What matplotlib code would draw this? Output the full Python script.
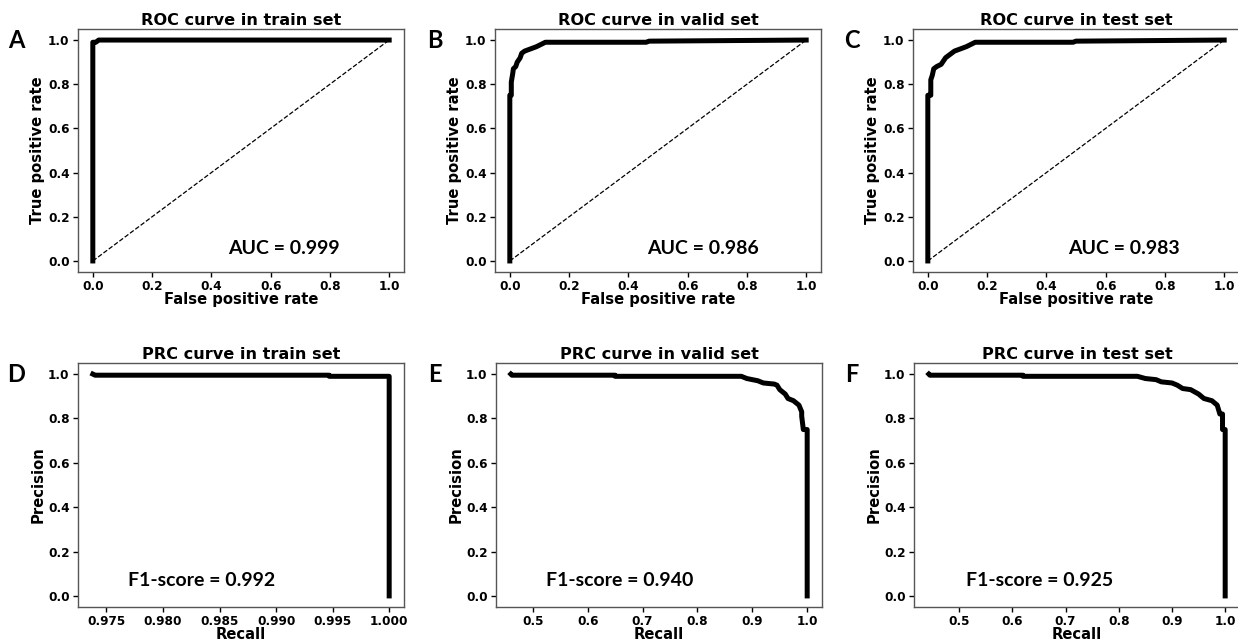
import matplotlib.pyplot as plt

plt.rcParams['font.family'] = 'DejaVu Sans'
plt.rcParams['font.weight'] = 'bold'

# ROC curves (fpr, tpr)
roc_train_fpr = [0.0, 0.0, 0.01, 0.02, 1.0]
roc_train_tpr = [0.0, 0.99, 0.99, 1.0, 1.0]

roc_valid_fpr = [0.0, 0.0, 0.005, 0.005, 0.01, 0.012, 0.02, 0.025, 0.035, 0.04,
                 0.05, 0.07, 0.09, 0.12, 0.46, 0.47, 1.0]
roc_valid_tpr = [0.0, 0.75, 0.75, 0.81, 0.85, 0.87, 0.88, 0.90, 0.92, 0.94,
                 0.95, 0.96, 0.97, 0.99, 0.99, 0.995, 1.0]

roc_test_fpr = [0.0, 0.0, 0.01, 0.01, 0.015, 0.02, 0.03, 0.045, 0.05, 0.06,
                0.07, 0.09, 0.11, 0.13, 0.16, 0.49, 0.50, 1.0]
roc_test_tpr = [0.0, 0.75, 0.75, 0.82, 0.84, 0.87, 0.88, 0.89, 0.90, 0.92,
                0.93, 0.95, 0.96, 0.97, 0.99, 0.99, 0.995, 1.0]

# PRC curves (recall, precision)
prc_train_rec = [0.9738, 0.9740, 0.9947, 0.9947, 1.0, 1.0]
prc_train_pre = [1.0, 0.995, 0.995, 0.99, 0.99, 0.0]

prc_valid_rec = [0.46, 0.462, 0.65, 0.65, 0.88, 0.89, 0.90, 0.91, 0.92, 0.94,
                 0.945, 0.95, 0.96, 0.965, 0.975, 0.985, 0.99, 0.99, 0.993,
                 1.0, 1.0]
prc_valid_pre = [1.0, 0.995, 0.995, 0.99, 0.99, 0.98, 0.975, 0.97, 0.96, 0.955,
                 0.95, 0.93, 0.91, 0.89, 0.88, 0.86, 0.83, 0.81, 0.75,
                 0.75, 0.0]

prc_test_rec = [0.443, 0.445, 0.62, 0.62, 0.835, 0.85, 0.87, 0.88, 0.90, 0.91,
                0.92, 0.935, 0.95, 0.96, 0.975, 0.985, 0.99, 0.995, 0.995,
                1.0, 1.0]
prc_test_pre = [1.0, 0.995, 0.995, 0.99, 0.99, 0.98, 0.975, 0.965, 0.96, 0.95,
                0.935, 0.93, 0.91, 0.89, 0.88, 0.86, 0.82, 0.82, 0.75,
                0.75, 0.0]

sets = ["train", "valid", "test"]
auc_scores = [0.999, 0.986, 0.983]
f1_scores = [0.992, 0.940, 0.925]
roc_data = [(roc_train_fpr, roc_train_tpr), (roc_valid_fpr, roc_valid_tpr),
            (roc_test_fpr, roc_test_tpr)]
prc_data = [(prc_train_rec, prc_train_pre), (prc_valid_rec, prc_valid_pre),
            (prc_test_rec, prc_test_pre)]
letters_top = ["A", "B", "C"]
letters_bot = ["D", "E", "F"]

fig = plt.figure(figsize=(12.38, 6.44), dpi=100)

lefts = [78 / 1238, 495 / 1238, 913 / 1238]
w = 326 / 1238
text_x = [0.46, 0.468, 0.475]
f1_x = [0.153, 0.153, 0.16]
letter_x = [16 / 1238, 435 / 1238, 852 / 1238]


def style(ax):
    for s in ax.spines.values():
        s.set_color('#555555')
        s.set_linewidth(1.0)
    ax.tick_params(labelsize=8.7, width=1, length=3.5, pad=2.5)
    for lab in ax.get_xticklabels() + ax.get_yticklabels():
        lab.set_fontweight('bold')


for i in range(3):
    # ROC
    ax = fig.add_axes([lefts[i], (644 - 272) / 644, w, 243 / 644])
    x, y = roc_data[i]
    ax.plot(x, y, color='black', lw=3.6)
    ax.plot([0, 1], [0, 1], color='black', lw=0.9, ls='--')
    ax.set_title("ROC curve in %s set" % sets[i], fontsize=11.6, fontweight='bold', pad=3)
    ax.set_xlabel("False positive rate", fontsize=10.6, fontweight='bold', labelpad=-1)
    ax.set_ylabel("True positive rate", fontsize=10.6, fontweight='bold', labelpad=2)
    ax.set_xticks([0, 0.2, 0.4, 0.6, 0.8, 1.0])
    ax.set_yticks([0, 0.2, 0.4, 0.6, 0.8, 1.0])
    style(ax)
    ax.text(text_x[i], 0.095, "AUC = %.3f" % auc_scores[i], transform=ax.transAxes,
            fontsize=14, family='Lato', fontweight='bold', va='center', ha='left')
    fig.text(letter_x[i], 1 - 40 / 644, letters_top[i], fontsize=17, family='Lato',
             fontweight='bold', ha='center', va='center')

    # PRC
    ax = fig.add_axes([lefts[i] + (1 / 1238 if i > 0 else 0), (644 - 607) / 644, w, 244 / 644])
    x, y = prc_data[i]
    ax.plot(x, y, color='black', lw=3.6)
    ax.set_title("PRC curve in %s set" % sets[i], fontsize=11.6, fontweight='bold', pad=3)
    ax.set_xlabel("Recall", fontsize=10.6, fontweight='bold', labelpad=-1)
    ax.set_ylabel("Precision", fontsize=10.6, fontweight='bold', labelpad=2)
    ax.set_yticks([0, 0.2, 0.4, 0.6, 0.8, 1.0])
    if i == 0:
        ax.set_xticks([0.975, 0.980, 0.985, 0.990, 0.995, 1.000])
        ax.set_xticklabels(["0.975", "0.980", "0.985", "0.990", "0.995", "1.000"])
    else:
        ax.set_xticks([0.5, 0.6, 0.7, 0.8, 0.9, 1.0])
    style(ax)
    ax.text(f1_x[i], 0.107, "F1-score = %.3f" % f1_scores[i], transform=ax.transAxes,
            fontsize=14, family='Lato', fontweight='bold', va='center', ha='left')
    fig.text(letter_x[i], 1 - 374 / 644, letters_bot[i], fontsize=17, family='Lato',
             fontweight='bold', ha='center', va='center')

fig.savefig("out.png", dpi=100)
